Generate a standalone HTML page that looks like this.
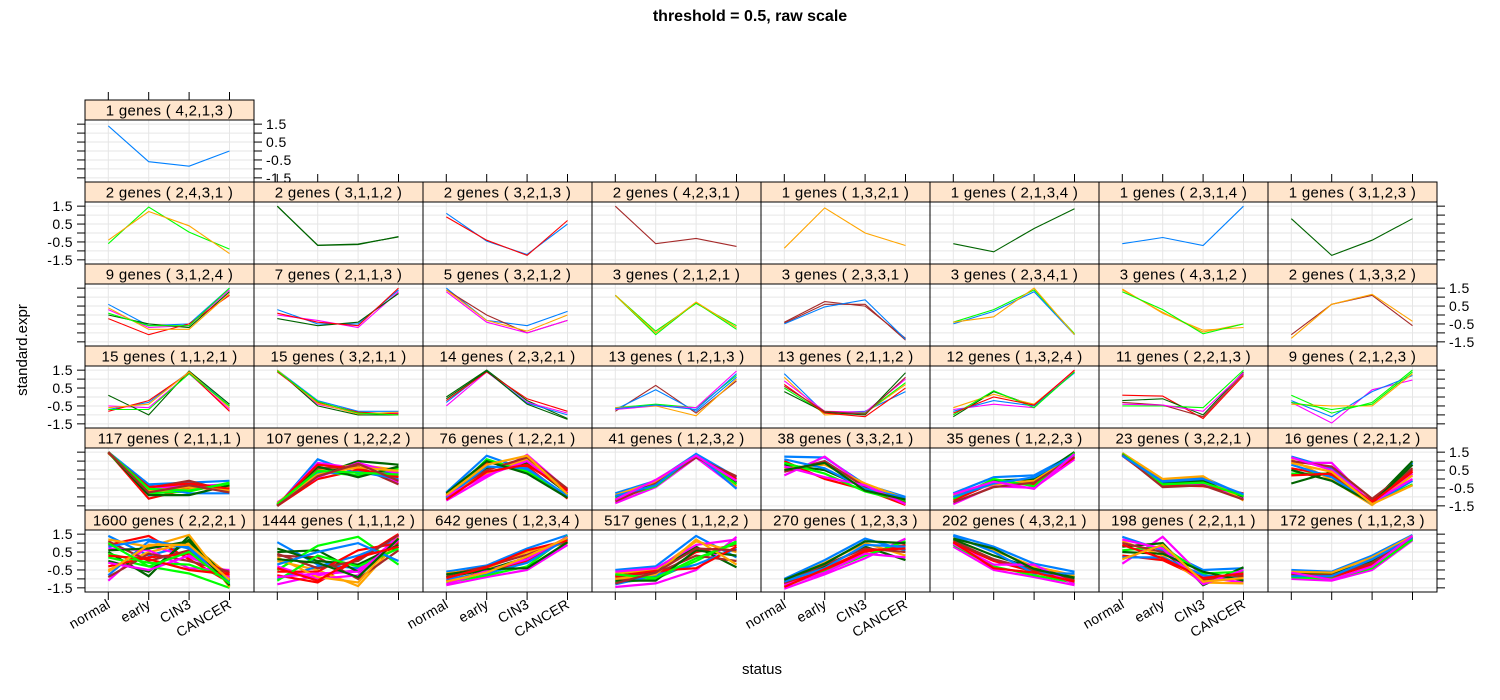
<!DOCTYPE html>
<html><head><meta charset="utf-8"><title>threshold = 0.5, raw scale</title>
<style>
html,body{margin:0;padding:0;background:#fff;}
svg{display:block;font-family:"Liberation Sans",Arial,sans-serif;}
</style></head>
<body>
<svg id="chart" width="1500" height="700" viewBox="0 0 1500 700" xmlns="http://www.w3.org/2000/svg">
<text x="750" y="21" text-anchor="middle" font-size="16" font-weight="bold">threshold = 0.5, raw scale</text>
<text x="0" y="0" transform="translate(27,350) rotate(-90)" text-anchor="middle" font-size="15">standard.expr</text>
<text x="762" y="674" text-anchor="middle" font-size="15">status</text>
<g id="panels"></g>
</svg>
<script>
const categories = ["normal","early","CIN3","CANCER"];
const yTickValues = [-1.5,-1,-0.5,0,0.5,1,1.5];
const yTickLabels = ["1.5","0.5","-0.5","-1.5"];
const yLabelValues = [1.5,0.5,-0.5,-1.5];
const palette = ["#0080ff","#ff00ff","#006400","#ff0000","#ffa500","#00ff00","#a52a2a"];

const row0 = [
 {label:"1 genes ( 4,2,1,3 )", cols:[0], lines:[[1.4,-0.6,-0.85,0.0]]}
];
const row1 = [
 {label:"2 genes ( 2,4,3,1 )", cols:[5,4], lines:[[-0.6,1.45,0.05,-0.9],[-0.4,1.2,0.4,-1.15]]},
 {label:"2 genes ( 3,1,1,2 )", cols:[2,2], lines:[[1.5,-0.7,-0.65,-0.2],[1.5,-0.68,-0.62,-0.22]]},
 {label:"2 genes ( 3,2,1,3 )", cols:[0,3], lines:[[1.1,-0.45,-1.2,0.5],[0.9,-0.4,-1.25,0.7]]},
 {label:"2 genes ( 4,2,3,1 )", cols:[6], lines:[[1.5,-0.6,-0.3,-0.75]]},
 {label:"1 genes ( 1,3,2,1 )", cols:[4], lines:[[-0.85,1.4,0.0,-0.7]]},
 {label:"1 genes ( 2,1,3,4 )", cols:[2], lines:[[-0.6,-1.05,0.25,1.35]]},
 {label:"1 genes ( 2,3,1,4 )", cols:[0], lines:[[-0.6,-0.25,-0.7,1.5]]},
 {label:"1 genes ( 3,1,2,3 )", cols:[2], lines:[[0.8,-1.25,-0.4,0.8]]}
];
const row2 = [
 {label:"9 genes ( 3,1,2,4 )", lines:[[0.6,-0.6,-0.5,1.5],[0.3,-0.7,-0.6,1.4],[0.0,-0.5,-0.7,1.3],[-0.2,-1.1,-0.5,1.1],[0.4,-0.8,-0.8,1.2],[0.1,-0.6,-0.6,1.5]]},
 {label:"7 genes ( 2,1,1,3 )", lines:[[0.3,-0.5,-0.5,1.4],[0.0,-0.3,-0.7,1.3],[-0.2,-0.6,-0.4,1.2],[0.1,-0.4,-0.6,1.5]]},
 {label:"5 genes ( 3,2,1,2 )", cols:[0,6,1,4], lines:[[1.5,-0.3,-0.6,0.2],[1.4,0.0,-1.0,-0.3],[1.3,-0.4,-1.0,-0.3],[1.4,-0.3,-0.9,0.0]]},
 {label:"3 genes ( 2,1,2,1 )", cols:[5,5,4], lines:[[1.1,-1.1,0.7,-0.8],[1.1,-0.9,0.65,-0.6],[1.1,-1.0,0.72,-0.7]]},
 {label:"3 genes ( 2,3,3,1 )", cols:[6,6,0], lines:[[-0.45,0.6,0.6,-1.4],[-0.4,0.75,0.5,-1.3],[-0.5,0.45,0.85,-1.35]]},
 {label:"3 genes ( 2,3,4,1 )", cols:[0,5,4], lines:[[-0.5,0.2,1.3,-1.1],[-0.4,0.3,1.4,-1.05],[-0.4,-0.1,1.5,-1.1]]},
 {label:"3 genes ( 4,3,1,2 )", cols:[4,4,5], lines:[[1.45,0.1,-0.85,-0.7],[1.4,0.15,-0.95,-0.5],[1.3,0.3,-1.05,-0.5]]},
 {label:"2 genes ( 1,3,3,2 )", cols:[6,4], lines:[[-1.1,0.6,1.1,-0.6],[-1.3,0.6,1.15,-0.35]]}
];
const row3 = [
 {label:"15 genes ( 1,1,2,1 )", lines:[[-0.7,-0.3,1.4,-0.5],[-0.5,-0.6,1.3,-0.7],[0.1,-1.0,1.45,-0.4],[-0.8,-0.2,1.35,-0.8],[-0.6,-0.4,1.4,-0.6],[-0.7,-0.7,1.3,-0.5]]},
 {label:"15 genes ( 3,2,1,1 )", lines:[[1.5,-0.2,-0.8,-0.8],[1.45,-0.4,-0.9,-0.9],[1.5,-0.5,-1.0,-1.0],[1.4,-0.3,-0.85,-0.95],[1.5,-0.35,-0.95,-0.85],[1.45,-0.25,-0.9,-1.0]]},
 {label:"14 genes ( 2,3,2,1 )", cols:[2,1,0,3,2], lines:[[0.0,1.5,-0.2,-1.2],[-0.5,1.4,-0.3,-0.9],[-0.3,1.45,-0.35,-1.0],[-0.2,1.4,-0.1,-0.8],[-0.1,1.45,-0.4,-1.25]]},
 {label:"13 genes ( 1,2,1,3 )", cols:[6,0,5,1,4,0], lines:[[-0.8,0.65,-0.9,0.9],[-0.7,0.4,-0.8,1.1],[-0.6,-0.4,-0.6,1.2],[-0.7,-0.5,-0.6,1.45],[-0.6,-0.5,-1.05,1.0],[-0.65,-0.45,-0.7,1.3]]},
 {label:"13 genes ( 2,1,1,2 )", cols:[0,4,1,5,2,3,6], lines:[[1.3,-0.9,-0.8,0.3],[1.1,-1.0,-0.9,0.7],[0.9,-0.8,-0.85,1.0],[0.5,-0.9,-0.9,0.8],[0.3,-0.85,-1.0,1.35],[0.7,-0.9,-1.1,0.5],[0.6,-0.8,-0.95,1.1]]},
 {label:"12 genes ( 1,3,2,4 )", cols:[2,4,1,0,5,3], lines:[[-1.1,0.3,-0.5,1.4],[-0.6,0.15,-0.4,1.45],[-0.7,-0.4,-0.6,1.5],[-0.8,-0.2,-0.5,1.35],[-1.0,0.35,-0.6,1.4],[-0.9,0.0,-0.45,1.5]]},
 {label:"11 genes ( 2,2,1,3 )", cols:[3,2,5,6,1], lines:[[0.1,0.05,-1.2,1.2],[-0.2,-0.1,-1.0,1.4],[-0.5,-0.5,-0.6,1.5],[-0.3,-0.45,-1.1,1.3],[-0.4,-0.45,-0.8,1.35]]},
 {label:"9 genes ( 2,1,2,3 )", cols:[1,5,0,4,5], lines:[[-0.3,-1.45,0.4,0.95],[0.1,-0.9,-0.3,1.5],[-0.2,-1.1,0.3,1.2],[-0.4,-0.5,-0.5,1.3],[-0.3,-0.7,-0.4,1.4]]}
];
const row4 = [
 {label:"117 genes ( 2,1,1,1 )", lines:[[1.5,-0.3,-0.2,-0.1],[1.5,-0.4,-0.4,-0.3],[1.45,-0.5,-0.5,-0.5],[1.5,-1.1,-0.55,-0.45],[1.5,-0.7,-0.6,-0.4],[1.45,-0.8,-0.7,-0.2],[1.5,-0.5,-0.1,-0.7],[1.5,-0.35,-0.8,-0.8],[1.5,-0.6,-0.3,-0.6],[1.5,-0.9,-0.9,-0.35],[1.45,-0.45,-0.25,-0.55],[1.5,-0.65,-0.45,-0.65],[1.5,-0.55,-0.65,-0.25],[1.5,-0.75,-0.35,-0.75]]},
 {label:"107 genes ( 1,2,2,2 )", lines:[[-1.5,1.1,0.3,0.4],[-1.45,0.9,0.6,-0.2],[-1.4,0.2,1.0,0.8],[-1.5,0.0,0.5,0.2],[-1.35,0.5,0.8,0.5],[-1.45,0.4,0.2,0.6],[-1.5,0.6,0.7,-0.3],[-1.4,0.3,0.4,0.0],[-1.3,0.1,0.9,0.3],[-1.5,0.7,0.1,0.7],[-1.45,0.8,0.55,0.1],[-1.35,0.25,0.65,0.45],[-1.4,0.45,0.35,0.25],[-1.5,0.15,0.85,-0.1]]},
 {label:"76 genes ( 1,2,2,1 )", lines:[[-0.75,1.3,0.5,-1.0],[-1.2,0.1,1.35,-0.6],[-0.9,0.6,0.9,-0.8],[-1.0,0.9,0.7,-1.1],[-0.8,0.3,1.1,-0.7],[-1.1,1.1,0.4,-0.9],[-0.85,0.5,1.2,-0.55],[-1.05,0.7,0.6,-0.95],[-0.95,0.2,1.0,-0.75],[-0.8,1.0,0.3,-1.05],[-1.15,0.4,0.8,-0.65],[-0.9,0.8,1.3,-0.85]]},
 {label:"41 genes ( 1,2,3,2 )", lines:[[-0.8,-0.1,1.4,0.1],[-1.35,-0.45,1.2,-0.5],[-1.0,-0.2,1.3,-0.2],[-1.2,-0.3,1.25,0.0],[-0.9,-0.15,1.35,-0.4],[-1.1,-0.4,1.3,-0.3],[-1.25,-0.25,1.2,0.15],[-0.95,-0.35,1.4,-0.55],[-1.15,-0.05,1.3,-0.1]]},
 {label:"38 genes ( 3,3,2,1 )", lines:[[1.25,1.2,-0.3,-1.0],[0.2,1.25,-0.4,-1.2],[0.8,0.5,-0.5,-1.3],[1.0,0.0,-0.6,-1.45],[0.6,0.8,-0.25,-1.1],[0.9,0.3,-0.7,-1.25],[0.4,1.0,-0.45,-1.35],[1.1,0.6,-0.55,-1.05],[0.7,0.1,-0.35,-1.4],[0.5,0.9,-0.65,-1.15]]},
 {label:"35 genes ( 1,2,2,3 )", lines:[[-0.8,0.1,0.2,1.4],[-1.4,-0.4,-0.5,1.1],[-1.0,-0.1,0.0,1.5],[-1.2,-0.2,-0.3,1.2],[-0.9,-0.3,-0.1,1.3],[-1.1,0.0,-0.4,1.45],[-1.3,-0.45,-0.2,1.25],[-1.0,-0.25,0.1,1.35],[-0.85,-0.15,-0.55,1.4]]},
 {label:"23 genes ( 3,2,2,1 )", lines:[[1.45,-0.1,0.1,-0.9],[1.4,-0.4,-0.3,-1.1],[1.35,-0.2,-0.1,-1.0],[1.3,-0.35,-0.4,-0.8],[1.45,0.0,0.15,-1.2],[1.4,-0.3,-0.2,-0.95],[1.35,-0.45,-0.35,-1.15],[1.3,-0.15,0.0,-0.85]]},
 {label:"16 genes ( 2,2,1,2 )", lines:[[1.25,0.6,-1.3,0.9],[0.9,0.9,-1.4,0.3],[-0.25,0.4,-1.3,1.0],[0.6,0.2,-1.2,0.5],[1.1,-0.05,-1.45,0.2],[0.3,0.3,-1.35,-0.3],[1.0,0.7,-1.1,0.6],[0.8,0.1,-1.4,-0.1],[1.2,0.5,-1.3,0.0],[0.5,-0.1,-1.35,0.8],[0.2,0.3,-1.3,0.4],[0.9,0.4,-1.4,-0.35]]}
];
const row5 = [
 {label:"1600 genes ( 2,2,2,1 )", lines:[[1.4,0.3,0.9,-1.0],[-1.1,0.9,0.2,-0.6],[0.5,-0.85,1.4,-1.4],[0.9,1.4,0.1,-1.2],[-0.5,0.5,1.0,-0.8],[0.2,-0.3,-0.7,-1.5],[1.1,0.0,0.6,-0.9],[-0.8,1.1,0.8,-1.3],[0.7,0.6,-0.4,-0.5],[0.0,-0.6,1.2,-1.1],[-0.3,0.2,0.4,-0.7],[1.2,0.8,1.45,-1.45],[0.4,-0.1,-0.2,-1.0],[-0.9,0.4,0.0,-0.6],[0.8,1.2,0.7,-1.2],[-0.1,-0.5,0.3,-0.9],[0.6,0.7,1.1,-1.35],[0.3,0.1,-0.5,-0.75],[-0.6,0.9,0.9,-1.05],[1.0,-0.3,0.5,-1.25]]},
 {label:"1444 genes ( 1,1,1,2 )", lines:[[1.05,-0.2,-0.4,1.0],[-1.3,-0.8,-0.5,1.3],[0.5,0.6,-0.6,0.8],[-0.8,-1.2,0.1,1.5],[0.0,-0.5,-1.4,1.1],[-0.5,0.85,1.35,-0.2],[0.3,0.2,-1.0,0.6],[-1.0,-0.3,0.3,1.2],[-0.3,-1.0,-0.8,1.4],[0.7,0.0,-0.2,0.9],[-0.6,-0.6,0.6,1.0],[0.2,-0.9,-1.2,1.3],[-1.1,0.3,-0.3,0.7],[0.4,-0.4,0.0,1.45],[-0.2,0.5,1.0,0.0],[-0.9,-0.7,-0.6,1.15],[0.1,-0.1,-0.9,1.25],[-0.4,-1.1,0.2,0.8]]},
 {label:"642 genes ( 1,2,3,4 )", lines:[[-0.6,-0.25,0.7,1.45],[-1.35,-0.9,-0.5,0.9],[-0.9,-0.5,0.2,1.2],[-1.1,-0.6,0.0,1.3],[-0.7,-0.4,0.5,1.0],[-1.2,-0.8,-0.3,1.4],[-0.8,-0.3,0.35,1.1],[-1.0,-0.7,-0.1,1.25],[-1.3,-0.55,0.1,1.35],[-0.75,-0.45,-0.4,1.05],[-0.95,-0.35,0.6,1.15],[-1.15,-0.65,0.25,1.3]]},
 {label:"517 genes ( 1,1,2,2 )", lines:[[-0.5,-0.3,1.4,0.2],[-1.45,-1.25,-0.5,1.35],[-0.8,-0.6,0.8,-0.35],[-1.0,-0.9,0.5,0.9],[-0.7,-0.5,1.1,0.5],[-1.2,-1.0,0.0,1.1],[-0.9,-0.7,0.3,0.0],[-1.3,-0.8,-0.2,0.7],[-0.6,-0.4,0.9,1.2],[-1.1,-1.1,0.6,0.3],[-0.85,-0.55,-0.4,0.8],[-1.0,-0.75,1.2,-0.2],[-0.75,-0.95,0.15,1.0],[-1.25,-0.65,0.7,0.6]]},
 {label:"270 genes ( 1,2,3,3 )", lines:[[-1.0,0.05,1.25,0.6],[-1.55,-0.75,0.15,1.25],[-1.2,-0.3,0.8,0.05],[-1.3,-0.5,0.5,0.9],[-1.1,-0.1,1.0,0.3],[-1.4,-0.6,0.3,1.1],[-1.25,-0.2,0.7,0.5],[-1.15,-0.4,0.9,0.8],[-1.35,-0.65,0.4,0.2],[-1.05,-0.15,1.1,1.0],[-1.45,-0.45,0.6,0.7]]},
 {label:"202 genes ( 4,3,2,1 )", lines:[[1.45,0.8,-0.15,-0.6],[0.8,-0.5,-0.9,-1.35],[1.2,0.3,-0.4,-0.9],[1.0,0.0,-0.6,-1.1],[1.3,0.6,-0.3,-0.8],[0.9,-0.3,-0.8,-1.2],[1.1,0.1,-0.5,-1.0],[1.4,0.5,-0.7,-0.7],[0.95,-0.2,-0.2,-1.3],[1.25,0.7,-0.45,-0.95],[1.05,-0.4,-0.65,-1.15]]},
 {label:"198 genes ( 2,2,1,1 )", lines:[[1.35,0.6,-0.5,-0.4],[-0.15,1.35,-0.9,-1.2],[0.8,1.0,-1.35,-0.35],[0.3,0.05,-1.0,-0.9],[1.1,0.3,-1.2,-1.25],[0.6,0.8,-0.7,-0.6],[1.0,0.5,-1.1,-0.8],[0.2,0.2,-0.8,-1.0],[1.2,0.7,-1.3,-0.5],[0.5,0.4,-0.6,-1.1],[0.9,0.15,-0.95,-0.7],[0.1,0.9,-1.15,-0.95]]},
 {label:"172 genes ( 1,1,2,3 )", lines:[[-0.5,-0.6,0.3,1.45],[-1.0,-1.1,-0.5,1.15],[-0.7,-0.7,0.0,1.3],[-0.8,-0.9,-0.2,1.25],[-0.6,-0.65,0.2,1.4],[-0.9,-1.0,-0.4,1.2],[-0.75,-0.8,-0.1,1.35],[-0.85,-0.85,0.1,1.3],[-0.65,-1.05,-0.3,1.4]]}
];
const rows = [row0,row1,row2,row3,row4,row5];

const NS = "http://www.w3.org/2000/svg";
const root = document.getElementById("panels");
const COL0 = 85, COLW = 169, ROW0 = 100, ROWH = 82, STRIPH = 20;
function el(tag, attrs, parent){
  const e = document.createElementNS(NS, tag);
  for (const k in attrs) e.setAttribute(k, attrs[k]);
  (parent||root).appendChild(e);
  return e;
}
function xScale(c, i){ return COL0 + COLW*c + 23.3 + i*40.4; }
function yScale(r, v){ const top = ROW0 + ROWH*r + STRIPH; return top + 31 - v*17.9; }

rows.forEach((row, r) => {
  row.forEach((p, c) => {
    const left = COL0 + COLW*c, top = ROW0 + ROWH*r, ptop = top + STRIPH, pbot = top + ROWH;
    const g = el("g", {});
    
    
    yTickValues.forEach(v => {
      const y = yScale(r, v);
      el("line", {x1:left, x2:left+COLW, y1:y, y2:y, stroke:"#e6e6e6", "stroke-width":1}, g);
    });
    categories.forEach((cat, i) => {
      const x = xScale(c, i);
      el("line", {x1:x, x2:x, y1:ptop, y2:pbot, stroke:"#e6e6e6", "stroke-width":1}, g);
    });
    const dense = p.lines.length > 7;
    p.lines.forEach((vals, k) => {
      const col = p.cols ? palette[p.cols[k % p.cols.length]] : palette[k % palette.length];
      const pts = vals.map((v, i) => xScale(c, i).toFixed(1) + "," + yScale(r, v).toFixed(1)).join(" ");
      const pl = el("polyline", {points:pts, fill:"none", stroke:col, "stroke-width": dense ? 2.2 : 1.1}, g);
      
      
    });
    el("rect", {x:left, y:ptop, width:COLW, height:ROWH-STRIPH, fill:"none", stroke:"#000", "stroke-width":1}, g);
    const s = el("rect", {x:left, y:top, width:COLW, height:STRIPH, fill:"#ffe5cc", stroke:"#000", "stroke-width":1}, g);
    
    
    const t = el("text", {x:left+COLW/2, y:top+15.5, "text-anchor":"middle", "font-size":15, "letter-spacing":"0.3"}, g);
    t.textContent = p.label;
    
    

    if (c === 0) {
      yTickValues.forEach(v => {
        const y = yScale(r, v);
        el("line", {x1:left-8, x2:left, y1:y, y2:y, stroke:"#000"}, g);
      });
      if (r % 2 === 1) {
        yLabelValues.forEach((v, k) => {
          const tl = el("text", {x:left-12, y:yScale(r, v)+5, "text-anchor":"end", "font-size":14, "letter-spacing":"0.4"}, g);
          tl.textContent = yTickLabels[k];
          
          
        });
      }
    }
    if (c === row.length - 1) {
      const right = left + COLW;
      yTickValues.forEach(v => {
        const y = yScale(r, v);
        el("line", {x1:right, x2:right+8, y1:y, y2:y, stroke:"#000"}, g);
      });
      if (r % 2 === 0) {
        yLabelValues.forEach((v, k) => {
          const tl = el("text", {x:right+12, y:yScale(r, v)+5, "text-anchor":"start", "font-size":14, "letter-spacing":"0.4"}, g);
          tl.textContent = yTickLabels[k];
          
          
        });
      }
    }
    if (r === 0 || (r === 1 && c > 0)) {
      categories.forEach((cat, i) => {
        const x = xScale(c, i);
        el("line", {x1:x, x2:x, y1:top-8, y2:top, stroke:"#000"}, g);
      });
    }
    if (r === rows.length - 1) {
      categories.forEach((cat, i) => {
        const x = xScale(c, i);
        el("line", {x1:x, x2:x, y1:pbot, y2:pbot+8, stroke:"#000"}, g);
        if (c % 2 === 0) {
          const tl = el("text", {x:0, y:0, "text-anchor":"end", "font-size":14, "letter-spacing":"0.3",
            transform:"translate(" + (x+3) + "," + (pbot+15) + ") rotate(-30)"}, g);
          tl.textContent = cat;
          
          
        }
      });
    }
  });
});
</script>
</body></html>
